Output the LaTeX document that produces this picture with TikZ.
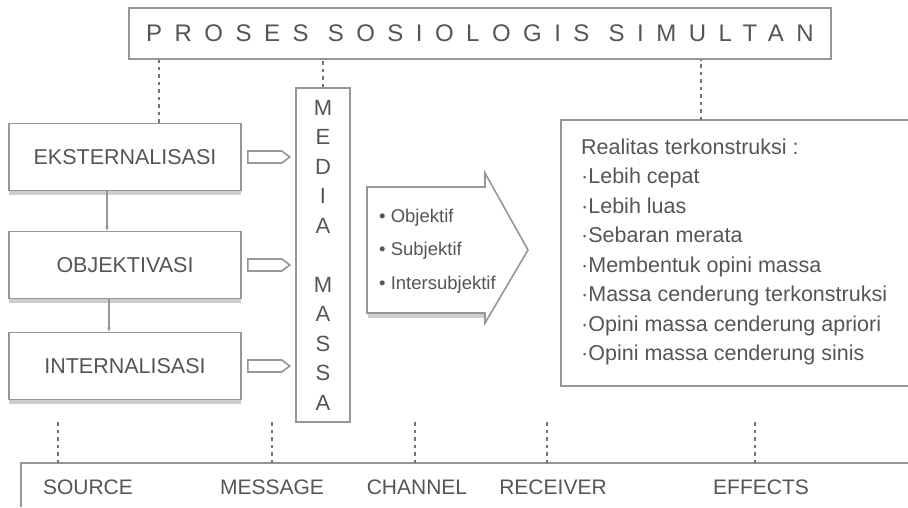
\documentclass[tikz,border=0pt]{standalone}
\usepackage{fontspec}
\setmainfont{Liberation Sans}
\usetikzlibrary{positioning,calc,arrows.meta,shadows}
\definecolor{LineGray}{RGB}{150,150,150}
\definecolor{ShadeGray}{RGB}{205,205,205}
\definecolor{TextGray}{RGB}{85,85,85}
\tikzset{
	box/.style={draw=LineGray,line width=1.6pt,fill=white,minimum width=232pt,minimum height=67pt,
		inner sep=0pt,text=TextGray,font=\fontsize{21.5}{26}\selectfont},
	boxshadow/.style={drop shadow={shadow xshift=0pt,shadow yshift=-4pt,fill=ShadeGray,opacity=1}},
	openframe/.style={draw=LineGray,line width=1.6pt},
	dots/.style={draw=black!55,line width=2pt,dash pattern=on 3.5pt off 4pt},
	hollow/.style={draw=LineGray,line width=1.6pt,fill=white},
	lbl/.style={text=TextGray,font=\fontsize{21}{24}\selectfont,inner sep=0pt},
	link/.style={draw=LineGray,line width=1.6pt,-{Latex[length=4pt,width=4pt]}},
}
\begin{document}
\begin{tikzpicture}[x=1pt,y=-1pt]
	\useasboundingbox (0,0) rectangle (908,507);
	% judul
	\node[box,minimum width=702pt,minimum height=51pt,
		font={\fontsize{24}{28}\selectfont\addfontfeature{LetterSpace=52}}] (title) at (480,33.5) {PROSES SOSIOLOGIS SIMULTAN};
	% tahap
	\node[box,boxshadow] (ekst) at (125,157) {EKSTERNALISASI};
	\node[box,boxshadow] (obj) at (125,265) {OBJEKTIVASI};
	\node[box,boxshadow] (int) at (125,366) {INTERNALISASI};
	\draw[link] ([xshift=-18pt]ekst.south) -- ([xshift=-18pt]obj.north);
	\draw[link] ([xshift=-16pt]obj.south) -- ([xshift=-16pt]int.north);
	% media massa
	\node[box,minimum width=54pt,minimum height=334pt,align=center,
		font=\fontsize{22}{29.5}\selectfont] (media) at (323,255) {M\\E\\D\\I\\A\\[29.5pt]M\\A\\S\\S\\A};
	\foreach \src in {ekst,obj,int}
	\draw[hollow] ($(\src.east)+(6,-6)$) -- ++(34,0) -- ++(8,6) -- ++(-8,6) -- ++(-34,0) -- cycle;
	% panah sifat
	\fill[ShadeGray] (368,314) rectangle (485,318);
	\draw[hollow] (367,187) -- (485,187) -- (485,173) -- (528,250) -- (485,323) -- (485,313) -- (367,313) -- cycle;
	\node[lbl,font=\fontsize{18.5}{33.5}\selectfont,align=left,anchor=west] (sifat) at (379,251)
		{• Objektif\\• Subjektif\\• Intersubjektif};
	% realitas
	\draw[openframe] (908,120) -- (561,120) -- (561,386) -- (908,386);
	\node[lbl,font=\fontsize{21.5}{29.5}\selectfont,align=left,anchor=west] (real) at (581,252)
		{Realitas terkonstruksi :\\·Lebih cepat\\·Lebih luas\\·Sebaran merata\\·Membentuk opini massa\\
		 ·Massa cenderung terkonstruksi\\·Opini massa cenderung apriori\\·Opini massa cenderung sinis};
	% garis titik atas
	\coordinate (top1) at ($(ekst.north)+(34,0)$);
	\coordinate (top3) at (701,120);
	\draw[dots] (top1) -- (top1 |- title.south);
	\draw[dots] (media.north) -- (media.north |- title.south);
	\draw[dots] (top3) -- (top3 |- title.south);
	% unsur komunikasi
	\draw[openframe] (21,507) -- (21,463) -- (908,463);
	\foreach \n/\x/\tx/\txt in {1/58/88/SOURCE,2/272/272/MESSAGE,3/415/417/CHANNEL,4/547/553/RECEIVER,5/755/761/EFFECTS}{
		\coordinate (tick\n) at (\x,463);
		\draw[dots] (tick\n) -- ++(0,-43);
		\node[lbl] (lab\n) at (\tx,487) {\txt};
	}
\end{tikzpicture}
\end{document}
